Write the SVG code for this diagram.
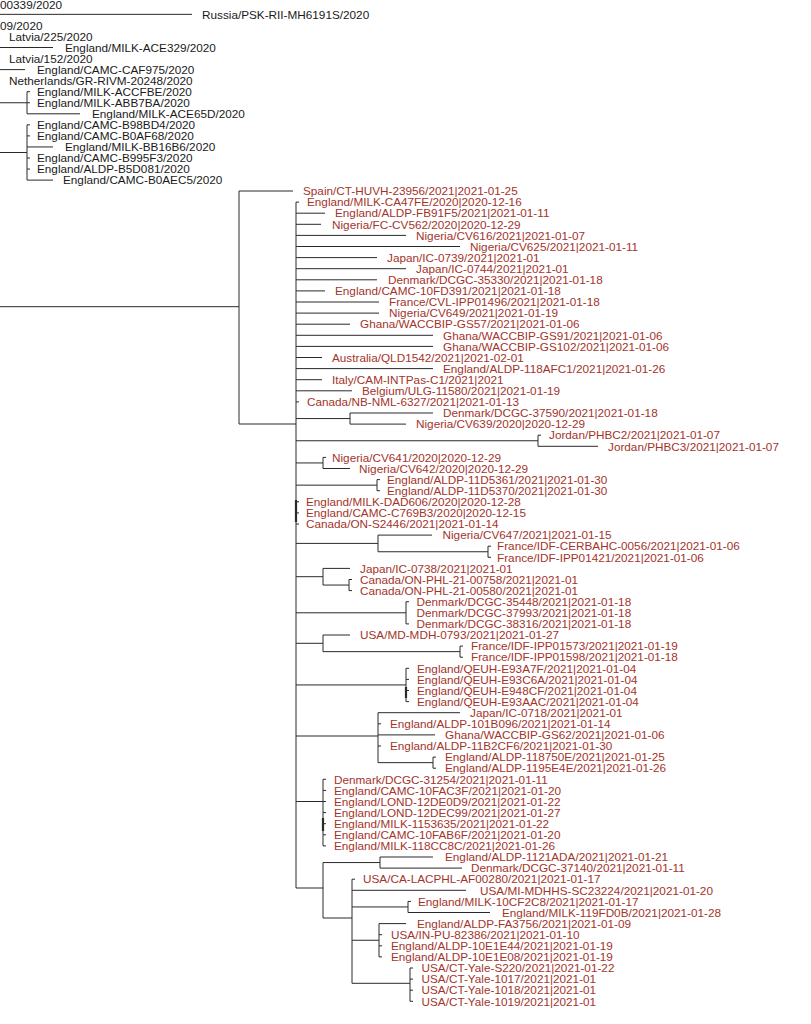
<svg xmlns="http://www.w3.org/2000/svg" width="811" height="1024" viewBox="0 0 811 1024">
<style>
text{font-family:"Liberation Sans",Arial,Helvetica,sans-serif;font-size:11.75px}
.b{fill:#1a1a1a}
.r{fill:#a3342b}
.e{fill:none;stroke:#2a2a2a;stroke-width:1}
.k{fill:none;stroke:#2a2a2a;stroke-width:2.2}
</style>
<rect width="811" height="1024" fill="#ffffff"/>
<g id="connectors">
<path class="e" d="M0 14.35H192 M0 47.5H53 M0 69.6H25
M0 102.75H27 M27 91.7V113.8 M27 91.7H30 M27 102.75H30 M27 113.8H80
M0 152.5H27 M27 124.85V180.1 M27 124.85H30 M27 135.9H30 M27 146.95H53 M27 158H30 M27 169.05H30 M27 180.1H53"/>
<path class="e" d="M0 306.7H239 M239 191V424 M239 191H293 M239 424H296
M296 202.1V888 M296 202.1H299
M296 213.2H325 M296 224.3H321 M296 235.4H406 M296 246.5H460 M296 257.6H377 M296 268.7H406 M296 279.8H377 M296 290.9H325
M296 302H379 M296 313.1H379 M296 324.2H350 M296 335.3H433 M296 346.4H433 M296 357.5H322 M296 368.6H433 M296 379.7H322 M296 390.8H352 M296 401.9H299
M296 418.55H350 M350 413V424.1 M350 413H433 M350 424.1H406
M296 440.75H538 M538 435.2V446.3 M538 435.2H541 M538 446.3H598
M296 462.95H323 M323 457.4V468.5 M323 457.4H326 M323 468.5H350
M296 485.15H377 M377 479.6V490.7 M377 479.6H380 M377 490.7H380
M296 501.8H299 M296 512.9H299 M296 524H299
M296 543.4H378 M378 535.1V551.75 M378 535.1H432 M378 551.75H488 M488 546.2V557.3 M488 546.2H491 M488 557.3H491
M296 576.7H323 M323 568.4V585.05 M323 568.4H350 M323 585.05H349 M349 579.5V590.6 M349 579.5H352 M349 590.6H352
M296 612.8H406 M406 601.7V623.9 M406 601.7H409 M406 623.9H409
M296 643.3H323 M323 635V651.65 M323 635H350 M323 651.65H460 M460 646.1V657.2 M460 646.1H463 M460 657.2H463
M296 684.95H406 M406 668.3V701.6 M406 668.3H409 M406 679.4H409 M406 690.5H409 M406 701.6H409
M296 736H378 M378 712.7V762.65 M378 712.7H460 M378 723.8H381 M378 734.9H435 M378 746H381 M378 762.65H433 M433 757.1V768.2 M433 757.1H436 M433 768.2H436
M296 801.5H323 M323 779.3V845.9 M323 779.3H326 M323 790.4H326 M323 801.5H326 M323 812.6H326 M323 823.7H326 M323 834.8H326 M323 845.9H326
M296 888H323 M323 862.55V918 M323 862.55H380 M380 857V868.1 M380 857H433 M380 868.1H462
M323 918H352 M352 879.2V983.3 M352 879.2H355 M352 890.3H466
M352 906.95H408 M408 901.4V912.5 M408 901.4H411 M408 912.5H490
M352 940.25H379 M379 923.6V956.9 M379 923.6H406 M379 934.7H382 M379 945.8H382 M379 956.9H382
M352 983.3H410 M410 968V1001.3 M410 968H413 M410 979.1H413 M410 990.2H413 M410 1001.3H413"/>
<path class="k" d="M296 500V522 M323 818V831 M406 687V698"/>
</g>
<g id="n-b0"><text class="b" x="0" y="9">00339/2020</text></g>
<g id="n-b1"><text class="b" x="202" y="18.5">Russia/PSK-RII-MH6191S/2020</text></g>
<g id="n-b2"><text class="b" x="0" y="29.6">09/2020</text></g>
<g id="n-b3"><text class="b" x="9" y="40.6">Latvia/225/2020</text></g>
<g id="n-b4"><text class="b" x="65" y="51.7">England/MILK-ACE329/2020</text></g>
<g id="n-b5"><text class="b" x="9" y="62.7">Latvia/152/2020</text></g>
<g id="n-b6"><text class="b" x="37" y="73.8">England/CAMC-CAF975/2020</text></g>
<g id="n-b7"><text class="b" x="9" y="84.8">Netherlands/GR-RIVM-20248/2020</text></g>
<g id="n-b8"><text class="b" x="37" y="95.9">England/MILK-ACCFBE/2020</text></g>
<g id="n-b9"><text class="b" x="37" y="106.9">England/MILK-ABB7BA/2020</text></g>
<g id="n-b10"><text class="b" x="92" y="118">England/MILK-ACE65D/2020</text></g>
<g id="n-b11"><text class="b" x="37" y="129">England/CAMC-B98BD4/2020</text></g>
<g id="n-b12"><text class="b" x="37" y="140.1">England/CAMC-B0AF68/2020</text></g>
<g id="n-b13"><text class="b" x="65" y="151.1">England/MILK-BB16B6/2020</text></g>
<g id="n-b14"><text class="b" x="37" y="162.2">England/CAMC-B995F3/2020</text></g>
<g id="n-b15"><text class="b" x="37" y="173.2">England/ALDP-B5D081/2020</text></g>
<g id="n-b16"><text class="b" x="63" y="184.3">England/CAMC-B0AEC5/2020</text></g>
<g id="n-r1"><text class="r" x="303" y="195.2">Spain/CT-HUVH-23956/2021|2021-01-25</text></g>
<g id="n-r2"><text class="r" x="307" y="206.3">England/MILK-CA47FE/2020|2020-12-16</text></g>
<g id="n-r3"><text class="r" x="335" y="217.4">England/ALDP-FB91F5/2021|2021-01-11</text></g>
<g id="n-r4"><text class="r" x="332" y="228.5">Nigeria/FC-CV562/2020|2020-12-29</text></g>
<g id="n-r5"><text class="r" x="416" y="239.6">Nigeria/CV616/2021|2021-01-07</text></g>
<g id="n-r6"><text class="r" x="470" y="250.7">Nigeria/CV625/2021|2021-01-11</text></g>
<g id="n-r7"><text class="r" x="387" y="261.8">Japan/IC-0739/2021|2021-01</text></g>
<g id="n-r8"><text class="r" x="416" y="272.9">Japan/IC-0744/2021|2021-01</text></g>
<g id="n-r9"><text class="r" x="388" y="284">Denmark/DCGC-35330/2021|2021-01-18</text></g>
<g id="n-r10"><text class="r" x="335" y="295.1">England/CAMC-10FD391/2021|2021-01-18</text></g>
<g id="n-r11"><text class="r" x="389" y="306.2">France/CVL-IPP01496/2021|2021-01-18</text></g>
<g id="n-r12"><text class="r" x="389" y="317.3">Nigeria/CV649/2021|2021-01-19</text></g>
<g id="n-r13"><text class="r" x="360" y="328.4">Ghana/WACCBIP-GS57/2021|2021-01-06</text></g>
<g id="n-r14"><text class="r" x="443" y="339.5">Ghana/WACCBIP-GS91/2021|2021-01-06</text></g>
<g id="n-r15"><text class="r" x="443" y="350.6">Ghana/WACCBIP-GS102/2021|2021-01-06</text></g>
<g id="n-r16"><text class="r" x="332" y="361.7">Australia/QLD1542/2021|2021-02-01</text></g>
<g id="n-r17"><text class="r" x="443" y="372.8">England/ALDP-118AFC1/2021|2021-01-26</text></g>
<g id="n-r18"><text class="r" x="332" y="383.9">Italy/CAM-INTPas-C1/2021|2021</text></g>
<g id="n-r19"><text class="r" x="362" y="395">Belgium/ULG-11580/2021|2021-01-19</text></g>
<g id="n-r20"><text class="r" x="307" y="406.1">Canada/NB-NML-6327/2021|2021-01-13</text></g>
<g id="n-r21"><text class="r" x="443" y="417.2">Denmark/DCGC-37590/2021|2021-01-18</text></g>
<g id="n-r22"><text class="r" x="416" y="428.3">Nigeria/CV639/2020|2020-12-29</text></g>
<g id="n-r23"><text class="r" x="549" y="439.4">Jordan/PHBC2/2021|2021-01-07</text></g>
<g id="n-r24"><text class="r" x="608" y="450.5">Jordan/PHBC3/2021|2021-01-07</text></g>
<g id="n-r25"><text class="r" x="332" y="461.6">Nigeria/CV641/2020|2020-12-29</text></g>
<g id="n-r26"><text class="r" x="359" y="472.7">Nigeria/CV642/2020|2020-12-29</text></g>
<g id="n-r27"><text class="r" x="387" y="483.8">England/ALDP-11D5361/2021|2021-01-30</text></g>
<g id="n-r28"><text class="r" x="387" y="494.9">England/ALDP-11D5370/2021|2021-01-30</text></g>
<g id="n-r29"><text class="r" x="306" y="506">England/MILK-DAD606/2020|2020-12-28</text></g>
<g id="n-r30"><text class="r" x="306" y="517.1">England/CAMC-C769B3/2020|2020-12-15</text></g>
<g id="n-r31"><text class="r" x="306" y="528.2">Canada/ON-S2446/2021|2021-01-14</text></g>
<g id="n-r32"><text class="r" x="442.5" y="539.3">Nigeria/CV647/2021|2021-01-15</text></g>
<g id="n-r33"><text class="r" x="497" y="550.4">France/IDF-CERBAHC-0056/2021|2021-01-06</text></g>
<g id="n-r34"><text class="r" x="497" y="561.5">France/IDF-IPP01421/2021|2021-01-06</text></g>
<g id="n-r35"><text class="r" x="360" y="572.6">Japan/IC-0738/2021|2021-01</text></g>
<g id="n-r36"><text class="r" x="360" y="583.7">Canada/ON-PHL-21-00758/2021|2021-01</text></g>
<g id="n-r37"><text class="r" x="360" y="594.8">Canada/ON-PHL-21-00580/2021|2021-01</text></g>
<g id="n-r38"><text class="r" x="416.5" y="605.9">Denmark/DCGC-35448/2021|2021-01-18</text></g>
<g id="n-r39"><text class="r" x="416.5" y="617">Denmark/DCGC-37993/2021|2021-01-18</text></g>
<g id="n-r40"><text class="r" x="416.5" y="628.1">Denmark/DCGC-38316/2021|2021-01-18</text></g>
<g id="n-r41"><text class="r" x="360" y="639.2">USA/MD-MDH-0793/2021|2021-01-27</text></g>
<g id="n-r42"><text class="r" x="471" y="650.3">France/IDF-IPP01573/2021|2021-01-19</text></g>
<g id="n-r43"><text class="r" x="471" y="661.4">France/IDF-IPP01598/2021|2021-01-18</text></g>
<g id="n-r44"><text class="r" x="417" y="672.5">England/QEUH-E93A7F/2021|2021-01-04</text></g>
<g id="n-r45"><text class="r" x="417" y="683.6">England/QEUH-E93C6A/2021|2021-01-04</text></g>
<g id="n-r46"><text class="r" x="417" y="694.7">England/QEUH-E948CF/2021|2021-01-04</text></g>
<g id="n-r47"><text class="r" x="417" y="705.8">England/QEUH-E93AAC/2021|2021-01-04</text></g>
<g id="n-r48"><text class="r" x="470" y="716.9">Japan/IC-0718/2021|2021-01</text></g>
<g id="n-r49"><text class="r" x="390" y="728">England/ALDP-101B096/2021|2021-01-14</text></g>
<g id="n-r50"><text class="r" x="445" y="739.1">Ghana/WACCBIP-GS62/2021|2021-01-06</text></g>
<g id="n-r51"><text class="r" x="390" y="750.2">England/ALDP-11B2CF6/2021|2021-01-30</text></g>
<g id="n-r52"><text class="r" x="445" y="761.3">England/ALDP-118750E/2021|2021-01-25</text></g>
<g id="n-r53"><text class="r" x="445" y="772.4">England/ALDP-1195E4E/2021|2021-01-26</text></g>
<g id="n-r54"><text class="r" x="334" y="783.5">Denmark/DCGC-31254/2021|2021-01-11</text></g>
<g id="n-r55"><text class="r" x="334" y="794.6">England/CAMC-10FAC3F/2021|2021-01-20</text></g>
<g id="n-r56"><text class="r" x="334" y="805.7">England/LOND-12DE0D9/2021|2021-01-22</text></g>
<g id="n-r57"><text class="r" x="334" y="816.8">England/LOND-12DEC99/2021|2021-01-27</text></g>
<g id="n-r58"><text class="r" x="334" y="827.9">England/MILK-1153635/2021|2021-01-22</text></g>
<g id="n-r59"><text class="r" x="334" y="839">England/CAMC-10FAB6F/2021|2021-01-20</text></g>
<g id="n-r60"><text class="r" x="334" y="850.1">England/MILK-118CC8C/2021|2021-01-26</text></g>
<g id="n-r61"><text class="r" x="445" y="861.2">England/ALDP-1121ADA/2021|2021-01-21</text></g>
<g id="n-r62"><text class="r" x="471" y="872.3">Denmark/DCGC-37140/2021|2021-01-11</text></g>
<g id="n-r63"><text class="r" x="363" y="883.4">USA/CA-LACPHL-AF00280/2021|2021-01-17</text></g>
<g id="n-r64"><text class="r" x="480" y="894.5">USA/MI-MDHHS-SC23224/2021|2021-01-20</text></g>
<g id="n-r65"><text class="r" x="418" y="905.6">England/MILK-10CF2C8/2021|2021-01-17</text></g>
<g id="n-r66"><text class="r" x="502" y="916.7">England/MILK-119FD0B/2021|2021-01-28</text></g>
<g id="n-r67"><text class="r" x="417" y="927.8">England/ALDP-FA3756/2021|2021-01-09</text></g>
<g id="n-r68"><text class="r" x="391" y="938.9">USA/IN-PU-82386/2021|2021-01-10</text></g>
<g id="n-r69"><text class="r" x="391" y="950">England/ALDP-10E1E44/2021|2021-01-19</text></g>
<g id="n-r70"><text class="r" x="391" y="961.1">England/ALDP-10E1E08/2021|2021-01-19</text></g>
<g id="n-r71"><text class="r" x="421.5" y="972.2">USA/CT-Yale-S220/2021|2021-01-22</text></g>
<g id="n-r72"><text class="r" x="421.5" y="983.3">USA/CT-Yale-1017/2021|2021-01</text></g>
<g id="n-r73"><text class="r" x="421.5" y="994.4">USA/CT-Yale-1018/2021|2021-01</text></g>
<g id="n-r74"><text class="r" x="421.5" y="1005.5">USA/CT-Yale-1019/2021|2021-01</text></g>
</svg>
